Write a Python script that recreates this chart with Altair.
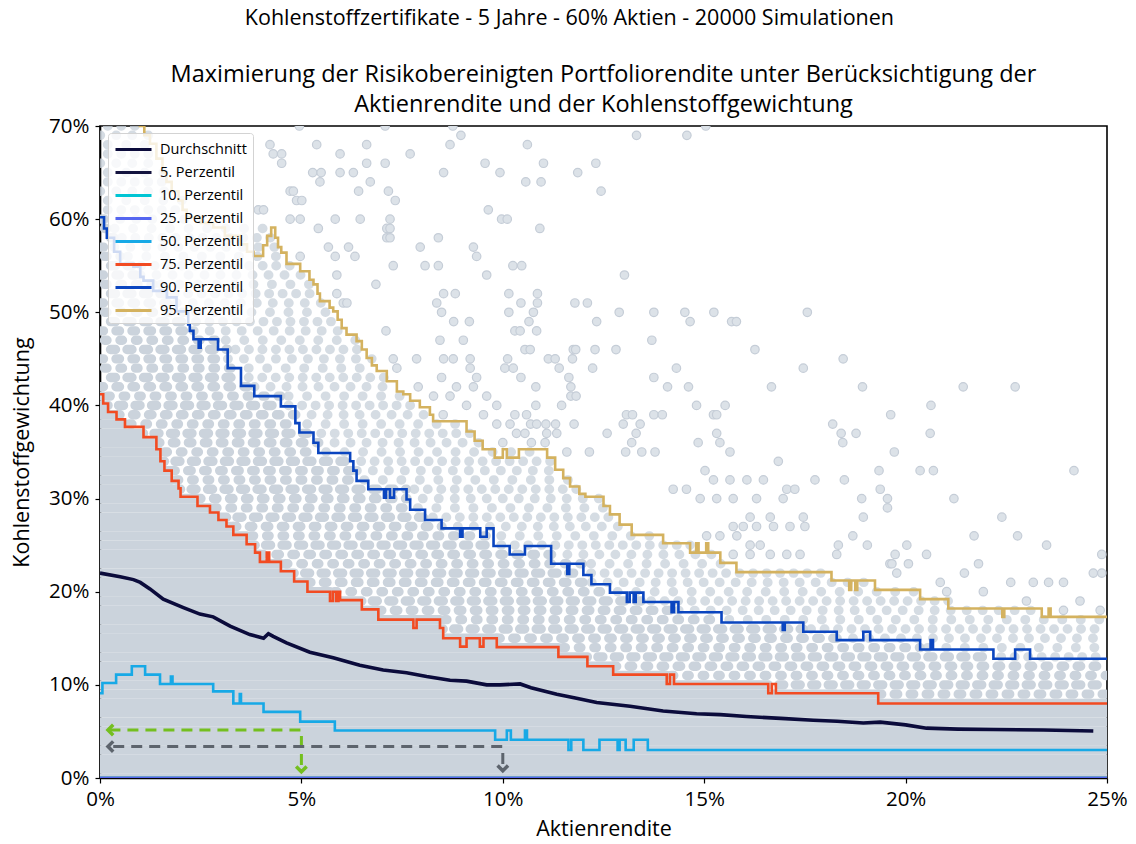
import altair as alt
import pandas as pd

FONT = "Open Sans"

SERIES = ["Durchschnitt", "5. Perzentil", "10. Perzentil", "25. Perzentil",
          "50. Perzentil", "75. Perzentil", "90. Perzentil", "95. Perzentil"]
COLORS = ["#0b0b3b", "#14143f", "#00c5d4", "#5566f0",
          "#17a9e6", "#f24b22", "#0a45c0", "#d4b25f"]

# ---- lines (x = Aktienrendite in %, y = Kohlenstoffgewichtung in %) ----
MEAN_X = [0, 0.5, 0.83, 1.0, 1.24, 1.57, 2.07, 2.48, 2.81, 3.23, 3.72, 4.06, 4.18, 4.3,
          4.63, 5.21, 5.79, 6.45, 7.03, 7.61, 8.11, 8.69, 9.1, 9.6, 9.93, 10.43, 10.7,
          11.34, 11.8, 12.33, 13.16, 13.98, 14.81, 15.4, 16.05, 16.9, 17.71, 18.3, 18.95,
          19.37, 20.0, 20.52, 21.3, 22.18, 23.42, 24.66]
MEAN_Y = [22.0, 21.6, 21.3, 21.0, 20.3, 19.2, 18.3, 17.6, 17.3, 16.3, 15.4, 15.0, 15.5, 15.2,
          14.5, 13.5, 12.9, 12.1, 11.6, 11.3, 10.9, 10.5, 10.4, 10.0, 10.0, 10.1, 9.7,
          9.0, 8.6, 8.1, 7.7, 7.2, 6.9, 6.8, 6.6, 6.4, 6.2, 6.1, 5.9,
          6.0, 5.7, 5.35, 5.25, 5.2, 5.15, 5.05]

P5_X = [0, 25]
P5_Y = [0, 0]
P10_X = [0, 25]
P10_Y = [0, 0]
P25_X = [0, 25]
P25_Y = [0, 0]

P50_X = [0, 0.06, 0.4, 0.79, 1.12, 1.49, 1.76, 1.8, 2.81, 3.31, 3.47, 3.5, 4.06, 4.97, 5.83,
         9.81, 10.1, 10.2, 10.55, 10.6, 11.63, 11.7, 12.0, 12.4, 12.85, 12.9, 13.05, 13.25,
         13.6, 25]
P50_Y = [9.1, 10.2, 11.1, 12.0, 11.1, 10.1, 10.9, 10.1, 9.3, 8.0, 9.0, 8.0, 7.1, 6.05, 5.1,
         4.1, 5.1, 4.1, 5.1, 4.1, 3.0, 4.1, 3.0, 4.1, 3.0, 4.1, 3.0, 4.1,
         3.0, 3.0]

P75_X = [0, 0.08, 0.2, 0.41, 0.62, 1.08, 1.4, 1.5, 1.6, 1.78, 1.95, 2.0, 2.42, 2.73, 2.94,
         3.14, 3.31, 3.64, 3.85, 3.97, 4.14, 4.2, 4.49, 4.82, 5.15, 5.71, 5.78, 5.86, 5.92,
         5.96, 6.5, 6.91, 7.78, 7.86, 8.44, 8.52, 8.94, 9.1, 9.43, 9.52, 9.85, 11.38, 12.1,
         12.74, 14.07, 14.15, 14.25, 16.59, 16.68, 16.78, 19.32, 25]
P75_Y = [41.2, 40.2, 39.3, 38.5, 37.7, 36.6, 35.3, 34.0, 33.0, 31.9, 31.1, 30.2, 29.2, 28.5, 27.7,
         27.0, 26.1, 25.1, 24.2, 23.2, 24.2, 23.2, 22.2, 21.1, 20.0, 19.0, 20.0, 19.0, 20.0,
         19.1, 18.1, 17.0, 16.1, 17.0, 16.1, 15.0, 14.1, 15.0, 14.1, 15.0, 14.05, 13.0, 12.0,
         11.1, 10.1, 11.1, 10.1, 9.1, 10.1, 9.1, 8.0, 8.0]

P90_X = [0, 0.1, 0.17, 0.35, 0.5, 0.83, 1.0, 1.08, 1.32, 1.66, 1.9, 2.19, 2.23, 2.32, 2.45, 2.5,
         2.93, 3.17, 3.5, 3.83, 4.49, 4.85, 4.95, 5.3, 5.42, 6.21, 6.29, 6.37, 6.66, 7.05, 7.1,
         7.2, 7.3, 7.61, 7.7, 8.07, 8.48, 8.94, 9.0, 9.44, 9.6, 9.77, 10.17, 10.55, 11.2, 11.6,
         11.65, 12.0, 12.2, 12.66, 13.08, 13.15, 13.25, 13.3, 13.49, 14.19, 14.25, 14.36,
         15.43, 16.95, 17.0, 17.46, 18.29, 18.95, 19.12, 20.36, 20.62, 20.68, 22.18, 22.72,
         23.09, 25]
P90_Y = [60.2, 59.0, 58.0, 56.5, 55.2, 54.9, 53.8, 53.4, 52.3, 51.6, 50.1, 48.7, 48.0, 47.1, 46.2, 47.1,
         46.0, 44.0, 42.1, 41.0, 39.9, 38.1, 37.1, 36.0, 34.9, 34.0, 33.0, 31.9, 31.0, 30.1, 31.0,
         30.1, 31.0, 29.9, 28.8, 27.7, 26.8, 25.9, 26.8, 25.9, 26.8, 24.9, 24.0, 24.9, 23.0, 21.9,
         23.0, 21.8, 20.8, 19.9, 18.9, 19.9, 18.9, 19.9, 18.9, 17.8, 18.9, 17.8,
         16.7, 15.9, 16.7, 15.7, 14.8, 15.7, 14.8, 13.8, 14.8, 13.8, 12.8, 13.8,
         12.8, 12.8]

P95_X = [0.9, 0.99, 1.1, 1.24, 1.4, 1.55, 1.65, 1.78, 1.95, 2.05, 2.15, 2.5, 2.81, 3.1, 3.48,
         3.65, 3.81, 4.05, 4.15, 4.25, 4.35, 4.42, 4.5, 4.63, 4.97, 5.2, 5.3, 5.4, 5.46, 5.7,
         5.79, 5.9, 6.0, 6.12, 6.37, 6.5, 6.62, 6.75, 6.87, 7.12, 7.37, 7.53, 7.7, 7.94, 8.19,
         8.27, 9.1, 9.3, 9.5, 9.8, 10.0, 10.1, 10.4, 11.1, 11.3, 11.5, 11.67, 11.9, 12.05,
         12.5, 12.66, 12.9, 13.2, 13.98, 14.65, 14.8, 14.86, 15.05, 15.1, 15.4, 15.8, 18.16,
         18.6, 18.65, 18.75, 18.8, 19.24, 20.36, 21.06, 22.4, 22.45, 23.38, 23.55, 23.6, 25]
P95_Y = [71.0, 70.0, 69.0, 68.1, 66.5, 65.0, 64.0, 63.0, 62.0, 61.0, 60.2, 59.6, 59.1, 58.2, 57.3,
         56.5, 56.05, 57.2, 58.2, 59.1, 58.0, 57.0, 56.4, 55.2, 54.4, 53.5, 53.0, 52.0, 51.2, 50.5,
         50.1, 49.2, 48.3, 47.6, 46.9, 46.0, 45.1, 44.3, 43.7, 42.6, 41.5, 41.2, 40.5, 39.8, 39.0,
         38.3, 37.2, 36.2, 35.3, 34.4, 35.3, 34.4, 35.3, 34.4, 33.1, 32.2, 31.3, 30.5, 30.2,
         29.2, 28.3, 27.2, 26.1, 25.2, 24.2, 25.2, 24.2, 25.2, 24.2, 23.1, 22.1, 21.2,
         20.2, 21.2, 20.2, 21.2, 20.2, 19.2, 18.2, 17.3, 18.2, 17.3, 18.2, 17.3, 17.3]

# ---- simulation cloud: rows of integer weights, read as density bands ----
ROW_Y = list(range(0, 71))
SOLID_END = [25, 25, 25, 25, 25, 25, 25, 25, 25, 19.32,
             16.59, 14.07, 12.74, 12.1, 11.38, 9.85, 8.52, 8.44, 6.91, 6.5,
             5.71, 5.15, 4.82, 4.49, 3.97, 3.85, 3.64, 3.31, 3.14, 2.73,
             2.42, 2.0, 1.78, 1.78, 1.6, 1.5, 1.4, 1.08, 0.62, 0.41,
             0.2, 0.08, 0, 0, 0, 0, 0, 0, 0, 0,
             0, 0, 0, 0, 0, 0, 0, 0, 0, 0,
             0, 0, 0, 0, 0, 0, 0, 0, 0, 0, 0]
MID_END = [25, 25, 25, 25, 25, 25, 25, 25, 25, 25,
           25, 25, 25, 22.18, 20.36, 18.29, 17.46, 15.43, 14.36, 13.49,
           12.66, 12.2, 12.0, 12.0, 11.2, 9.77, 9.77, 8.48, 8.07, 7.7,
           7.61, 7.61, 6.37, 6.37, 6.29, 5.42, 5.42, 5.3, 4.95, 4.85,
           4.49, 4.49, 3.83, 3.5, 3.5, 3.17, 3.17, 2.93, 2.32, 2.19,
           2.19, 1.9, 1.66, 1.32, 1.0, 0.83, 0.5, 0.35, 0.35, 0.17,
           0.1, 0, 0, 0, 0, 0, 0, 0, 0, 0, 0]
SPARSE_END = [25, 25, 25, 25, 25, 25, 25, 25, 25, 25,
              25, 25, 25, 25, 25, 25, 25, 25, 23.38, 21.06,
              20.36, 19.24, 18.16, 15.8, 15.4, 14.65, 13.98, 13.2, 12.9, 12.66,
              12.5, 12.05, 11.67, 11.5, 11.3, 11.1, 9.5, 9.3, 9.1, 8.27,
              7.94, 7.7, 7.37, 7.12, 6.87, 6.75, 6.62, 6.5, 6.12, 6.0,
              5.9, 5.79, 5.46, 5.4, 5.3, 4.97, 4.63, 4.5, 4.42, 4.35,
              2.5, 2.15, 2.05, 1.95, 1.78, 1.65, 1.55, 1.4, 1.4, 1.24, 1.1]

# ---- isolated simulations beyond the 95th percentile ----
PT_ROWS = {
    70: [4.95, 7.08, 8.76, 15.04],
    69: [8.96, 13.32, 14.57],
    68: [4.22, 5.38, 6.62, 8.69, 10.61],
    67: [4.30, 4.51, 5.96, 7.70],
    66: [4.51, 6.62, 7.08, 9.56, 11.01, 12.31],
    65: [5.28, 5.49, 5.96, 6.29, 8.53, 9.93, 11.86],
    64: [5.46, 6.71, 10.57, 10.95],
    63: [4.72, 4.80, 6.42, 7.16, 12.44],
    62: [4.88, 5.01, 7.33],
    61: [3.93, 4.06, 9.64],
    60: [4.72, 4.97, 5.84, 6.46, 7.20, 9.97, 10.11],
    59: [5.42, 7.12, 7.20, 10.92],
    58: [7.12, 7.20, 8.40],
    57: [5.67, 6.17, 7.95, 9.27],
    56: [4.97, 5.84, 6.33, 9.35],
    55: [7.28, 8.07, 8.40, 10.25, 10.47],
    54: [5.88, 9.60, 13.02],
    53: [6.85],
    52: [5.88, 8.53, 8.82, 10.15, 10.86],
    51: [6.04, 6.13, 8.36, 10.45, 10.86, 11.79, 12.10],
    50: [8.48, 10.15, 10.76, 12.89, 13.75, 14.52, 15.24, 17.56],
    49: [8.78, 9.17, 10.65, 12.33, 14.65, 15.68, 15.80],
    48: [7.10, 10.30, 10.43, 10.84],
    47: [8.44, 9.02, 13.70],
    46: [10.55, 10.68, 11.75, 11.81, 12.29, 12.81, 16.26],
    45: [7.28, 7.86, 8.53, 8.77, 9.19, 10.12, 11.13, 11.30, 11.73, 18.45],
    44: [7.37, 9.19, 10.05, 10.26, 11.40, 12.23, 14.31, 17.46],
    43: [8.48, 9.35, 10.45, 11.64, 13.75],
    42: [7.90, 8.85, 9.27, 10.82, 11.69, 14.09, 14.61, 16.67, 18.93, 21.43, 22.72],
    41: [8.28, 8.69, 9.60, 11.69, 11.82],
    40: [9.10, 9.85, 10.82, 11.46, 14.81, 15.52, 20.63],
    39: [8.52, 9.52, 10.30, 10.59, 13.07, 13.22, 13.75, 13.96, 15.23, 15.31, 19.63],
    38: [9.85, 10.18, 10.69, 10.84, 11.07, 11.31, 11.77, 12.99, 13.41, 18.19],
    37: [10.34, 10.55, 11.09, 11.34, 12.59, 13.31, 15.31, 18.40, 18.77, 20.61],
    36: [10.0, 10.71, 11.05, 13.20, 14.85, 15.39, 18.44],
    35: [11.59, 12.15, 13.05, 13.45, 13.78, 15.64, 19.72],
    34: [16.84],
    33: [15.02, 19.34, 20.36, 20.69, 24.18],
    32: [15.23, 15.64, 16.06, 16.47, 17.75, 18.48],
    31: [14.23, 14.56, 17.05, 17.25, 19.37],
    30: [14.90, 15.31, 15.72, 16.30, 16.96, 18.91, 19.55, 21.20],
    29: [19.55],
    28: [16.14, 16.64, 17.46, 18.95, 22.39],
    27: [15.72, 15.97, 16.30, 16.72, 17.13, 17.50],
    26: [15.06, 15.39, 15.81, 18.69, 21.70, 22.78],
    25: [16.14, 16.39, 18.33, 19.05, 20.03, 23.50],
    24: [15.72, 16.14, 16.64, 17.05, 17.38, 18.29, 19.74, 20.52, 24.87],
    23: [19.61, 19.66, 20.07, 21.81],
    22: [19.78, 21.46, 24.66, 24.87],
    21: [20.86, 22.61, 23.17, 23.55, 23.92],
    20: [21.02, 21.93],
    19: [23.00, 24.33],
    18: [23.92, 24.83],
}

# ---- reading guides (dashed arrows) ----
GREEN_X = [5.0, 5.0, 0.25]
GREEN_Y = [1.4, 5.16, 5.16]
GRAY_X = [10.0, 10.0, 0.25]
GRAY_Y = [1.5, 3.37, 3.37]
LEFT_TIP_X = [0.25, 0.25]
LEFT_TIP_Y = [5.16, 3.37]
DOWN_TIP_X = [5.0, 10.0]
DOWN_TIP_Y = [0.95, 1.05]
GUIDE_COLORS = ["#74bf1f", "#5d646d"]

X_TICKS = [0, 5, 10, 15, 20, 25]
Y_TICKS = [0, 10, 20, 30, 40, 50, 60, 70]

# ---------------------------------------------------------------------------
def line_df(name, xs, ys):
    return pd.DataFrame({"x": xs, "y": ys, "series": name})

mean_df = line_df("Durchschnitt", MEAN_X, MEAN_Y)
step_df = pd.concat([
    line_df("5. Perzentil", P5_X, P5_Y),
    line_df("10. Perzentil", P10_X, P10_Y),
    line_df("25. Perzentil", P25_X, P25_Y),
    line_df("50. Perzentil", P50_X, P50_Y),
    line_df("75. Perzentil", P75_X, P75_Y),
    line_df("90. Perzentil", P90_X, P90_Y),
    line_df("95. Perzentil", P95_X, P95_Y),
], ignore_index=True)

solid_rows, mid_rows, sparse_rows = [], [], []
for y, a, b, c in zip(ROW_Y, SOLID_END, MID_END, SPARSE_END):
    if a > 0:
        solid_rows.append({"y": y, "x": 0.0, "x2": a})
    if b > a:
        mid_rows.append({"y": y, "x": a, "x2": b, "k": y % 3})
    if c > max(a, b):
        sparse_rows.append({"y": y, "x": max(a, b), "x2": c, "k": y % 3})
solid_df = pd.DataFrame(solid_rows)
mid_df = pd.DataFrame(mid_rows)
sparse_df = pd.DataFrame(sparse_rows)

pts_df = pd.DataFrame([{"x": x, "y": y} for y, xs in PT_ROWS.items() for x in xs])

xscale = alt.Scale(domain=[0, 25], nice=False, zero=False)
yscale = alt.Scale(domain=[0, 70], nice=False, zero=False)

xaxis = alt.Axis(values=X_TICKS, labelExpr="datum.value + '%'", title="Aktienrendite",
                 grid=False, labelFlush=False)
yaxis = alt.Axis(values=Y_TICKS, labelExpr="datum.value + '%'", title="Kohlenstoffgewichtung",
                 grid=False, labelFlush=False)

X = alt.X("x:Q", scale=xscale, axis=xaxis)
Y = alt.Y("y:Q", scale=yscale, axis=yaxis)
X2 = alt.X2("x2:Q")

CLOUD = "#cbd3dc"
ROW_W = 9.4

solid = alt.Chart(solid_df).mark_rule(
    strokeWidth=ROW_W, strokeCap="round", color=CLOUD, clip=True
).encode(x=X, x2=X2, y=Y)

band_layers = []
for k, off, mid_dash, sparse_dash in [
    (0, 0, [3.5, 12.5], [0.5, 15.5]),
    (1, 6, [5.0, 11.5], [0.5, 13.0]),
    (2, 11, [2.5, 13.0], [0.5, 18.0]),
]:
    band_layers.append(
        alt.Chart(mid_df).transform_filter(alt.datum.k == k).mark_rule(
            strokeWidth=ROW_W, strokeCap="round", color=CLOUD, clip=True,
            strokeDash=mid_dash, strokeDashOffset=off
        ).encode(x=X, x2=X2, y=Y)
    )
    band_layers.append(
        alt.Chart(sparse_df).transform_filter(alt.datum.k == k).mark_rule(
            strokeWidth=ROW_W, strokeCap="round", color=CLOUD, clip=True,
            strokeDash=sparse_dash, strokeDashOffset=off, opacity=0.8
        ).encode(x=X, x2=X2, y=Y)
    )

points = alt.Chart(pts_df).mark_circle(
    size=72, color="#dce2e8", opacity=1, stroke="#c5cdd7", strokeWidth=1.2, clip=True
).encode(x=X, y=Y)

color = alt.Color(
    "series:N",
    scale=alt.Scale(domain=SERIES, range=COLORS),
    legend=alt.Legend(title=None),
    sort=SERIES,
)

steps = alt.Chart(step_df).mark_line(
    interpolate="step-after", strokeWidth=2.6, clip=True
).encode(x=X, y=Y, color=color, detail="series:N")
mean_line = alt.Chart(mean_df).mark_line(strokeWidth=3.6, clip=True).encode(
    x=X, y=Y, color=color
)

green_df = pd.DataFrame({"x": GREEN_X, "y": GREEN_Y, "o": [0, 1, 2]})
gray_df = pd.DataFrame({"x": GRAY_X, "y": GRAY_Y, "o": [0, 1, 2]})
green = alt.Chart(green_df).mark_line(
    color=GUIDE_COLORS[0], strokeWidth=3, strokeDash=[11, 7]
).encode(x=X, y=Y, order="o:Q")
gray = alt.Chart(gray_df).mark_line(
    color=GUIDE_COLORS[1], strokeWidth=3, strokeDash=[11, 7], strokeJoin="round"
).encode(x=X, y=Y, order="o:Q")

tips_left = pd.DataFrame({"x": LEFT_TIP_X, "y": LEFT_TIP_Y, "c": GUIDE_COLORS})
tips_down = pd.DataFrame({"x": DOWN_TIP_X, "y": DOWN_TIP_Y, "c": GUIDE_COLORS})
left_tips = alt.Chart(tips_left).mark_point(
    shape="M0.6,-1L-0.4,0L0.6,1", filled=False, size=110, strokeWidth=3.5, opacity=1
).encode(x=X, y=Y, stroke=alt.Stroke("c:N", scale=None))
down_tips = alt.Chart(tips_down).mark_point(
    shape="M-1,-0.5L0,0.5L1,-0.5", filled=False, size=110, strokeWidth=3.5, opacity=1
).encode(x=X, y=Y, stroke=alt.Stroke("c:N", scale=None))

inner = alt.layer(
    solid, *band_layers, points, mean_line, steps, green, gray, left_tips, down_tips
).properties(
    width=1007, height=652,
    title=alt.TitleParams(
        text=["Maximierung der Risikobereinigten Portfoliorendite unter Berücksichtigung der",
              "Aktienrendite und der Kohlenstoffgewichtung"],
        fontSize=23.5, lineHeight=30, font=FONT, fontWeight="normal", color="black",
        anchor="middle", offset=0,
    ),
)

chart = alt.vconcat(inner).properties(
    title=alt.TitleParams(
        text="Kohlenstoffzertifikate - 5 Jahre - 60% Aktien - 20000 Simulationen",
        fontSize=21.5, font=FONT, fontWeight="normal", color="black",
        anchor="middle", offset=32,
    ),
    padding={"left": 10, "top": 8, "right": 5, "bottom": 5},
).configure_view(
    stroke="black", strokeWidth=1.6
).configure_axis(
    labelFont=FONT, titleFont=FONT, labelFontSize=20.5, titleFontSize=21.5,
    titleFontWeight="normal", labelColor="black", titleColor="black",
    domainColor="black", domainWidth=1.6, tickColor="black", tickSize=5, tickWidth=1.2,
    labelPadding=6,
).configure_axisX(titlePadding=9).configure_axisY(titlePadding=15).configure_legend(
    orient="none", legendX=8, legendY=7,
    symbolType="M-2,0H2", symbolSize=324, symbolStrokeWidth=3, symbolOffset=9,
    labelOffset=16, labelFont=FONT, labelFontSize=14.5, labelColor="black",
    rowPadding=6, padding=6, strokeColor="#d3d3d3", fillColor="rgba(255,255,255,0.8)",
    cornerRadius=3,
)

chart.save("out.html", embed_options={"renderer": "svg", "actions": False})
